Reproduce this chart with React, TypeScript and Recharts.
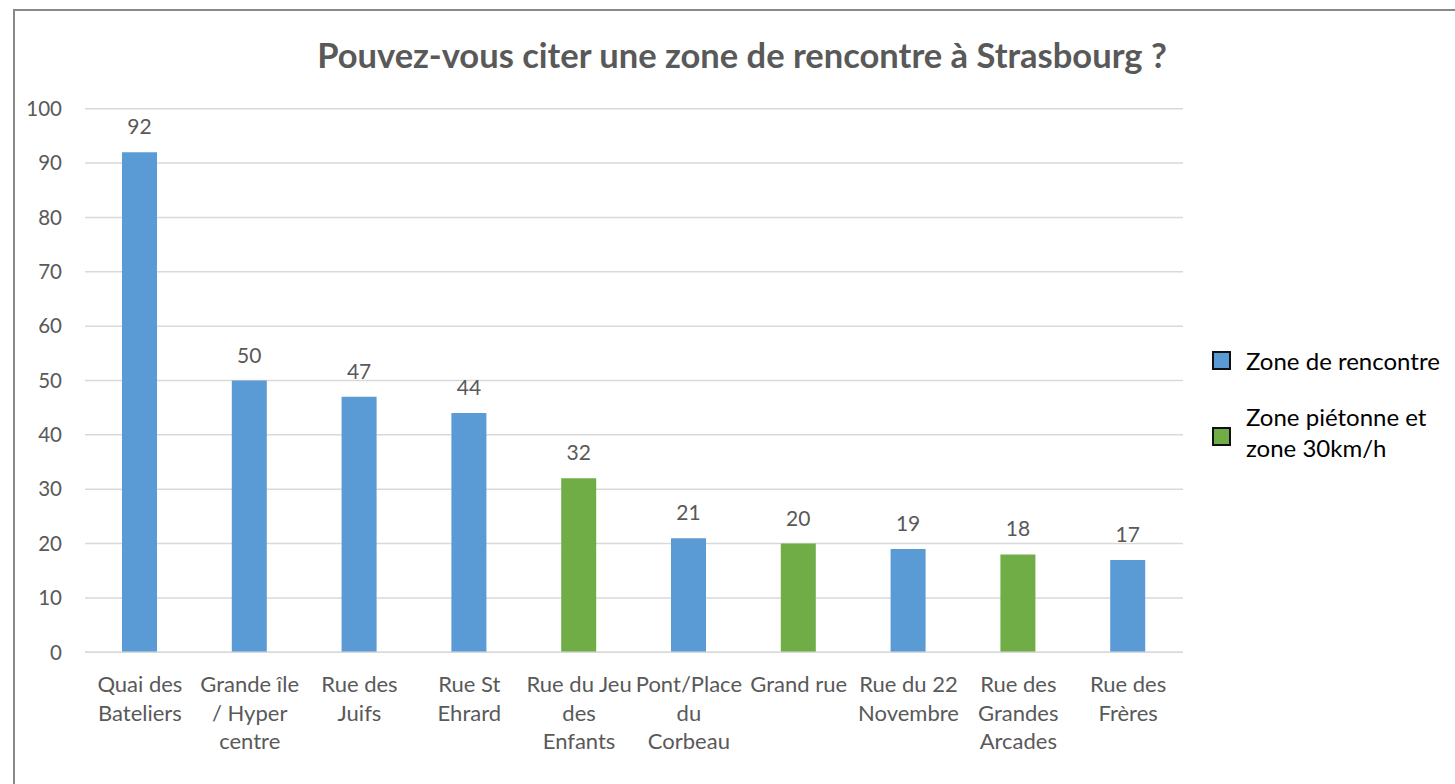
import { BarChart, Bar, XAxis, YAxis, CartesianGrid, Cell, LabelList } from "recharts";

const categories = [
  "Quai des\nBateliers",
  "Grande île\n/ Hyper\ncentre",
  "Rue des\nJuifs",
  "Rue St\nEhrard",
  "Rue du Jeu\ndes\nEnfants",
  "Pont/Place\ndu\nCorbeau",
  "Grand rue",
  "Rue du 22\nNovembre",
  "Rue des\nGrandes\nArcades",
  "Rue des\nFrères",
];
const counts = [92, 50, 47, 44, 32, 21, 20, 19, 18, 17];
// 0 = zone de rencontre, 1 = zone piétonne et zone 30km/h
const groups = [0, 0, 0, 0, 1, 0, 1, 0, 1, 0];
const groupNames = ["Zone de rencontre", "Zone piétonne et\nzone 30km/h"];
const groupColors = ["#5B9BD5", "#70AD47"];
const yTicks = [0, 10, 20, 30, 40, 50, 60, 70, 80, 90, 100];

const data = categories.map((name, i) => ({ name, value: counts[i], group: groups[i] }));

const FONT = "Lato, 'Liberation Sans', sans-serif";
const TEXT = "#595959";

const CategoryTick = ({ x, y, payload }: any) => {
  const lines = String(payload.value).split("\n");
  return (
    <text x={x} y={y} textAnchor="middle" fill={TEXT} fontSize={22} fontFamily={FONT}>
      {lines.map((l, i) => (
        <tspan key={i} x={x} dy={i === 0 ? 32 : 28.5}>
          {l}
        </tspan>
      ))}
    </text>
  );
};

const LegendBox = () => (
  <div style={{ position: "absolute", left: 1212, top: 345, fontFamily: FONT, fontSize: 24, color: "#000" }}>
    {groupNames.map((g, i) => {
      const lines = g.split("\n");
      return (
        <div key={i} style={{ display: "flex", alignItems: "center", marginBottom: i === 0 ? 25 : 0 }}>
          <span
            style={{
              width: 19,
              height: 19,
              boxSizing: "border-box",
              border: "2px solid #111",
              background: groupColors[i],
              marginRight: 15,
              marginTop: i === 0 ? 0 : 8,
              flexShrink: 0,
            }}
          />
          <span style={{ lineHeight: "31px" }}>
            {lines.map((l, j) => (
              <div key={j}>{l}</div>
            ))}
          </span>
        </div>
      );
    })}
  </div>
);

export default function App() {
  return (
    <div style={{ position: "fixed", left: 0, top: 0, width: 1455, height: 784, overflow: "hidden", background: "#fff" }}>
      <div
        style={{
          position: "absolute",
          left: 13,
          top: 9,
          width: 1500,
          height: 800,
          border: "2px solid #898989",
        }}
      />
      <div
        style={{
          position: "absolute",
          left: 242,
          width: 1000,
          top: 34,
          textAlign: "center",
          fontFamily: FONT,
          fontWeight: 700,
          fontSize: 34.5,
          color: TEXT,
          whiteSpace: "nowrap",
        }}
      >
        Pouvez-vous citer une zone de rencontre à Strasbourg ?
      </div>
      <div style={{ position: "absolute", left: 0, top: 0 }}>
        <BarChart
          width={1455}
          height={784}
          data={data}
          margin={{ top: 108.7, right: 272, bottom: 31.7, left: 0 }}
        >
          <CartesianGrid vertical={false} stroke="#D9D9D9" strokeWidth={1.5} />
          <XAxis
            dataKey="name"
            height={100}
            tickLine={false}
            axisLine={{ stroke: "#D9D9D9", strokeWidth: 1.5 }}
            tick={<CategoryTick />}
            interval={0}
          />
          <YAxis
            width={85}
            domain={[0, 100]}
            ticks={yTicks}
            axisLine={false}
            tickLine={false}
            tickMargin={17}
            tick={{ fill: TEXT, fontSize: 20.5, fontFamily: FONT }}
          />
          <Bar dataKey="value" barSize={35} isAnimationActive={false}>
            {data.map((d, i) => (
              <Cell key={i} fill={groupColors[d.group]} />
            ))}
            <LabelList
              dataKey="value"
              position="top"
              offset={18}
              fill={TEXT}
              fontSize={21}
              fontFamily={FONT}
            />
          </Bar>
        </BarChart>
      </div>
      <LegendBox />
    </div>
  );
}
